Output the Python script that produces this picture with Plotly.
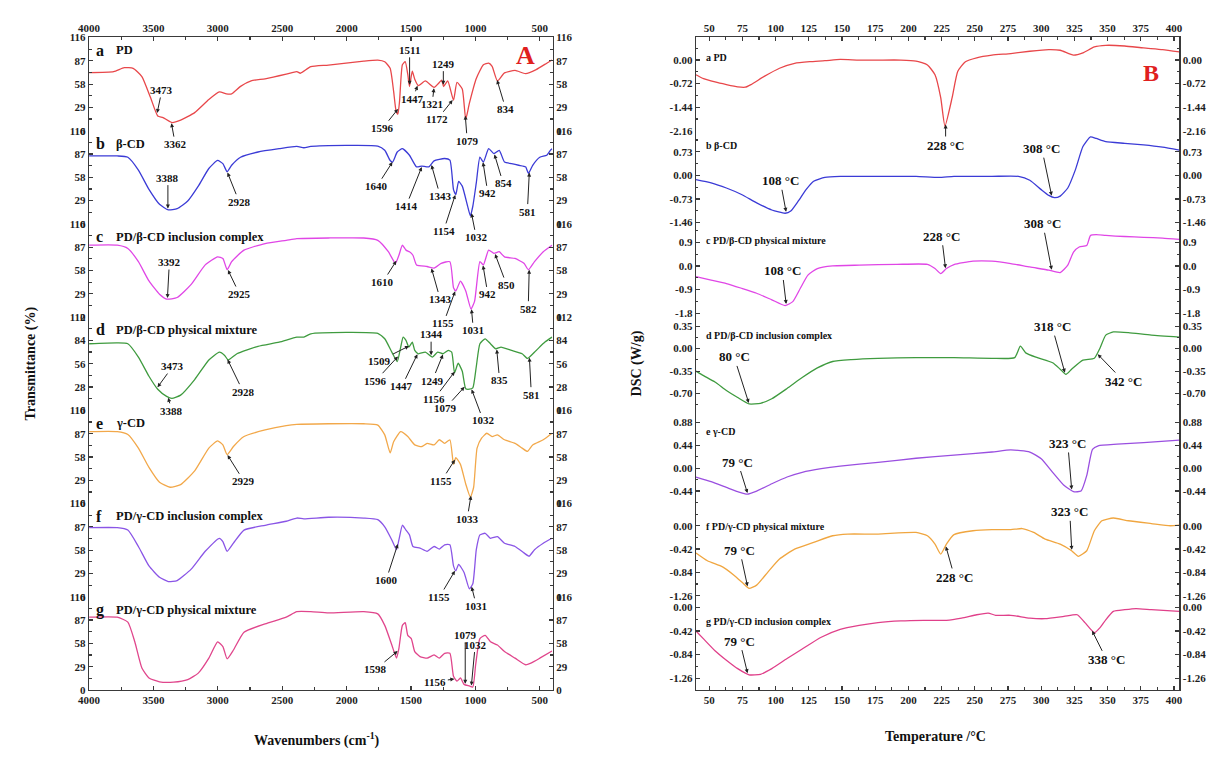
import numpy as np
import plotly.graph_objects as go

# ===================== DATA =====================
# --- FTIR (panel A): wavenumber (cm-1) and transmittance (%) ---
ftir_a_wn = [4000,3809,3727,3658,3590,3522,3467,3426,3357,3289,3180,3070,2988,2934,2893,2824,2742,2633,2469,2387,
             2359,2278,2141,1867,1758,1704,1662,1635,1616,1602,1589,1567,1545,1525,1512,1490,1471,1443,1389,1321,
             1280,1262,1247,1215,1170,1143,1102,1075,1047,993,938,897,870,829,774,692,610,528,446,405]
ftir_a_t = [72.3,73.5,78.4,77.6,67.4,40.9,18.4,16.4,10.2,13.1,22.5,38.8,48.2,45.8,45.8,55.2,62.1,64.6,70.3,73.5,
            71.5,79.7,81.7,86.6,87.8,85.8,77.6,49,24.5,20.5,36.8,82,86,70,55,74,64,56,62,54,
            60,63,55,62,38,60,52,14.3,34,65,82,84,80,62,72,75,71,76,84,88]

ftir_b_wn = [4000,3781,3699,3617,3535,3453,3385,3316,3234,3152,3070,3002,2961,2928,2893,2824,2688,2524,2387,2332,
             2278,2004,1758,1704,1662,1643,1607,1567,1512,1457,1416,1362,1321,1239,1198,1170,1152,1130,1102,1061,
             1039,1020,993,965,938,897,856,815,774,719,664,610,588,555,500,446,418,405]
ftir_b_t = [84.6,84.6,83,67,43,24.4,17.5,19,28.5,47,69,79,75,65,73,83,89.5,93.6,96.4,94.8,
            96.4,97.7,96.9,91.6,79,77,89.5,93.6,85.5,71,72,71,78.5,81.4,79.4,42.7,36.6,53,47,22.4,
            10,22,51,83,77,93.6,87.5,91.6,77,75,73,71,63,73,83,85.5,91.6,93.6]

ftir_c_wn = [4000,3781,3699,3617,3535,3453,3398,3316,3207,3098,3002,2961,2928,2893,2797,2633,2469,2387,2141,1867,
             1758,1676,1621,1594,1567,1539,1512,1485,1457,1375,1321,1266,1198,1170,1152,1116,1075,1034,1006,965,
             938,897,856,815,774,692,623,588,541,473,405]
ftir_c_t = [89.5,89.5,85.5,69,45,28.5,22.4,24.4,40.7,65,75,73,59,69,83.4,91.6,95.6,97.7,98.5,98.5,
            95.6,81.4,67,77,89.5,83.4,81.4,77,65,63,61,67,69,36.6,32.6,44.8,32.6,10,20,69,
            65,83.4,79.4,81.4,75,73,67,59,69,81.4,89.5]

ftir_d_wn = [4000,3781,3699,3617,3535,3467,3398,3357,3289,3180,3070,2988,2947,2920,2852,2688,2524,2387,2332,2278,
             2004,1758,1704,1649,1607,1580,1561,1539,1517,1490,1471,1443,1389,1334,1293,1252,1211,1184,1162,1134,
             1102,1075,1047,1020,993,965,924,883,842,801,719,637,596,528,460,405]
ftir_d_t = [80,81,80,64,41,25.4,16.8,14.4,18.3,37,60.5,70,66,60.5,68,77,82,88,88,92,
            93.7,92.5,86,70,58.5,76,88,84,76,82,72,68,70,64,70,68,72,70,45,56.6,
            47,26,25.4,27,52.7,80,86,80,74,76,72,68,62.4,72,82,88]

ftir_e_wn = [4000,3781,3699,3617,3535,3453,3371,3289,3180,3070,3002,2961,2928,2879,2797,2633,2469,2387,2141,1867,
             1758,1704,1662,1635,1580,1525,1471,1416,1375,1321,1280,1239,1198,1170,1152,1116,1075,1039,1014,987,
             952,911,870,829,774,692,637,596,555,473,405]
ftir_e_t = [89.5,89.5,86,69,45,26.5,20.3,23.6,40.7,69,78,73,61,71,83.4,91.6,97,98.5,99.3,99.3,
            97.7,85.5,63,77,89.5,83.4,73,71,75,73,79.4,75,79.4,48.8,57,48.8,24.4,8,20,69,
            81.4,87.5,83.4,85.5,79.4,75,69,65,73,79.4,87.5]

ftir_f_wn = [4000,3781,3699,3617,3535,3453,3385,3316,3207,3098,2988,2961,2928,2879,2797,2633,2469,2387,2332,2141,
             1867,1758,1704,1649,1613,1594,1567,1539,1512,1485,1430,1375,1321,1280,1239,1198,1170,1152,1130,1088,
             1047,1020,993,965,924,883,829,774,692,623,583,541,473,405]
ftir_f_t = [86,86,83,62.6,38.4,24.3,19,20.2,34.4,56.6,72.8,68.7,56.6,66.7,83,89,94,98,97,99,
            98,96,87,70.7,58.6,70.7,89,83,77,62.6,60.6,56.6,62.6,59.4,64.7,64.7,38.4,32.3,40.4,30.3,
            10,16.2,58.6,77,79,72.8,74.8,66.7,62.6,54.6,50.5,58.6,66.7,72.8]

ftir_g_wn = [4000,3781,3699,3645,3590,3535,3453,3344,3234,3152,3070,3002,2961,2928,2879,2797,2633,2469,2387,2278,
             2141,1867,1758,1704,1649,1613,1594,1567,1545,1525,1498,1471,1430,1375,1321,1280,1239,1198,1170,1143,
             1116,1088,1047,1020,998,965,924,883,829,774,692,610,569,500,405]
ftir_g_t = [90.6,90.6,84.5,60,27.3,15,10.2,9.8,13,21,39.6,60,54,38.8,49.8,72,82.4,90.6,97.5,97.5,
            96,97.5,94.7,80.4,56,39.6,51.8,80.4,83.7,68,64,47.8,41.6,39.6,43.7,39.6,45.7,45.7,17,11,
            15,7,5,3.7,31.4,64,68,60,56,47.8,39.6,31.4,33.5,39.6,48.6]

ftir_letters = ["a", "b", "c", "d", "e", "f", "g"]
ftir_names = ["PD", "β-CD", "PD/β-CD inclusion complex", "PD/β-CD physical mixture",
              "γ-CD", "PD/γ-CD inclusion complex", "PD/γ-CD physical mixture"]
ftir_peaks = [
    [3473, 3362, 1596, 1511, 1447, 1321, 1249, 1172, 1079, 834],
    [3388, 2928, 1640, 1414, 1343, 1154, 1032, 942, 854, 581],
    [3392, 2925, 1610, 1343, 1155, 1031, 942, 850, 582],
    [3473, 3388, 2928, 1509, 1596, 1447, 1344, 1249, 1156, 1079, 1032, 835, 581],
    [2929, 1155, 1033],
    [1600, 1155, 1031],
    [1598, 1156, 1079, 1032],
]
ftir_xticks = [4000, 3500, 3000, 2500, 2000, 1500, 1000, 500]
ftir_yticks = [0, 29, 58, 87, 116]
ftir_yticks_d = [0, 28, 56, 84, 112]

# --- DSC (panel B): temperature (°C) and heat flow (W/g) ---
dsc_a_T = [40,45.7,54.3,62.9,71.4,77.1,81.4,91.4,102.9,114.3,125.7,137.1,148.6,162.9,177.1,194.3,205.7,214.3,220,224.3,
           227.5,232.9,237.1,242.9,251.4,262.9,277.1,291.4,305.7,314.3,324.3,331.4,340,348.6,362.9,377.1,391.4,404]
dsc_a_v = [-0.45,-0.57,-0.67,-0.75,-0.82,-0.83,-0.75,-0.50,-0.25,-0.10,-0.05,-0.02,0.02,0.00,0.00,0.00,-0.03,-0.15,-0.45,-1.15,
           -2.02,-1.15,-0.35,-0.05,0.07,0.15,0.20,0.27,0.32,0.30,0.15,0.22,0.40,0.45,0.43,0.37,0.32,0.25]

dsc_b_T = [40,51.4,62.9,74.3,85.7,97.1,107.1,111.4,117.1,122.9,128.6,137.1,148.6,177.1,205.7,222.9,234.3,262.9,282.9,291.4,
           300,305.7,310,314.3,320,325.7,331.4,337.1,341.4,348.6,362.9,377.1,391.4,404]
dsc_b_v = [-0.13,-0.23,-0.39,-0.59,-0.85,-1.07,-1.17,-1.10,-0.79,-0.44,-0.18,-0.06,-0.03,-0.03,-0.03,-0.06,-0.03,-0.03,-0.03,-0.15,
           -0.44,-0.62,-0.69,-0.64,-0.39,0.17,0.89,1.19,1.14,1.04,0.99,0.94,0.87,0.78]

dsc_c_T = [40,51.4,62.9,74.3,85.7,97.1,107.1,112.9,118.6,124.3,131.4,142.9,162.9,191.4,214.3,220,224.3,228.6,234.3,248.6,
           262.9,277.1,291.4,305.7,314.3,320,324.3,328.6,334.3,337.1,341.4,348.6,362.9,377.1,391.4,404]
dsc_c_v = [-0.41,-0.54,-0.67,-0.85,-1.04,-1.29,-1.51,-1.36,-0.85,-0.35,-0.10,0.0,0.03,0.06,0.06,-0.10,-0.29,-0.10,0.05,0.18,
           0.18,0.09,-0.04,-0.16,-0.25,0.03,0.53,0.72,0.78,1.16,1.19,1.16,1.12,1.09,1.06,1.01]

dsc_d_T = [40,45.7,54.3,62.9,71.4,80,88.6,97.1,108.6,120,131.4,142.9,157.1,177.1,205.7,234.3,262.9,280,284.3,288.6,
           297.1,308.6,314.3,318.6,322.9,331.4,340,344.3,348.6,354.3,365.7,382.9,404]
dsc_d_v = [-0.35,-0.42,-0.52,-0.65,-0.76,-0.86,-0.85,-0.78,-0.62,-0.45,-0.30,-0.20,-0.17,-0.15,-0.14,-0.14,-0.15,-0.14,0.04,-0.07,
           -0.14,-0.22,-0.32,-0.40,-0.32,-0.18,-0.15,0.01,0.21,0.26,0.25,0.21,0.18]

dsc_e_T = [40,51.4,62.9,71.4,78.6,85.7,97.1,108.6,120,134.3,148.6,177.1,205.7,234.3,262.9,277.1,291.4,300,308.6,317.1,
           324.3,330,334.3,338.6,342.9,357.1,377.1,404]
dsc_e_v = [-0.17,-0.26,-0.37,-0.45,-0.50,-0.44,-0.30,-0.17,-0.08,-0.01,0.04,0.11,0.19,0.25,0.31,0.35,0.31,0.18,-0.08,-0.33,
           -0.45,-0.44,-0.14,0.36,0.43,0.46,0.49,0.54]

dsc_f_T = [40,48.6,60,68.6,75.7,80,85.7,94.3,102.9,114.3,128.6,142.9,154.3,177.1,205.7,214.3,220,224.3,228.6,234.3,
           248.6,262.9,277.1,285.7,294.3,302.9,314.3,322.9,328,334.3,340,345.7,354.3,365.7,382.9,397.1,404]
dsc_f_v = [-0.49,-0.63,-0.74,-0.89,-1.04,-1.13,-1.07,-0.83,-0.60,-0.42,-0.30,-0.18,-0.15,-0.15,-0.12,-0.18,-0.33,-0.51,-0.33,-0.16,
           -0.09,-0.07,-0.07,-0.05,-0.12,-0.24,-0.33,-0.45,-0.55,-0.45,-0.09,0.09,0.14,0.09,0.04,0.00,0.01]

dsc_g_T = [40,45.7,54.3,62.9,71.4,80,88.6,97.1,108.6,120,134.3,148.6,162.9,177.1,194.3,211.4,228.6,240,251.4,260,
           265.7,277.1,291.4,302.9,317.1,327.1,332.9,340,344.3,348.6,354.3,362.9,371.4,382.9,404]
dsc_g_v = [-0.42,-0.56,-0.77,-0.94,-1.09,-1.20,-1.19,-1.09,-0.91,-0.74,-0.53,-0.39,-0.32,-0.27,-0.24,-0.23,-0.23,-0.19,-0.13,-0.10,
           -0.14,-0.14,-0.19,-0.20,-0.16,-0.13,-0.27,-0.45,-0.36,-0.22,-0.07,-0.04,-0.02,-0.04,-0.07]

dsc_names = ["a PD", "b β-CD", "c PD/β-CD physical mixture", "d PD/β-CD inclusion complex",
             "e γ-CD", "f PD/γ-CD physical mixture", "g PD/γ-CD inclusion complex"]
dsc_peaks = [[228], [108, 308], [108, 228, 308], [80, 318, 342], [79, 323], [79, 228, 323], [79, 338]]
dsc_xticks = [50, 75, 100, 125, 150, 175, 200, 225, 250, 275, 300, 325, 350, 375, 400]
dsc_yticks = [
    [0.00, -0.72, -1.44, -2.16],
    [0.73, 0.00, -0.73, -1.46],
    [0.9, 0.0, -0.9, -1.8],
    [0.35, 0.00, -0.35, -0.70],
    [0.88, 0.44, 0.00, -0.44],
    [0.00, -0.42, -0.84, -1.26],
    [0.00, -0.42, -0.84, -1.26],
]
dsc_ytext = [
    ["0.00", "-0.72", "-1.44", "-2.16"],
    ["0.73", "0.00", "-0.73", "-1.46"],
    ["0.9", "0.0", "-0.9", "-1.8"],
    ["0.35", "0.00", "-0.35", "-0.70"],
    ["0.88", "0.44", "0.00", "-0.44"],
    ["0.00", "-0.42", "-0.84", "-1.26"],
    ["0.00", "-0.42", "-0.84", "-1.26"],
]

ftir_wn = [ftir_a_wn, ftir_b_wn, ftir_c_wn, ftir_d_wn, ftir_e_wn, ftir_f_wn, ftir_g_wn]
ftir_t = [ftir_a_t, ftir_b_t, ftir_c_t, ftir_d_t, ftir_e_t, ftir_f_t, ftir_g_t]
dsc_T = [dsc_a_T, dsc_b_T, dsc_c_T, dsc_d_T, dsc_e_T, dsc_f_T, dsc_g_T]
dsc_v = [dsc_a_v, dsc_b_v, dsc_c_v, dsc_d_v, dsc_e_v, dsc_f_v, dsc_g_v]

# ===================== STYLE / LAYOUT =====================
W, H = 1210, 758
TOP, BOT = 32, 695
PH = (BOT - TOP) / 7.0
AX0, AX1 = 79, 548
BX0, BX1 = 693, 1182
SERIF = "Liberation Serif"
INK = "#1e1e1e"
LINEC = "#3a3a3a"

ftir_colors = ["#e8474a", "#3b3bd6", "#e046e6", "#3f9b3f", "#f2a84a", "#8a55e6", "#e0468c"]
dsc_colors = ["#e8474a", "#3b3bd6", "#e046e6", "#3f9b3f", "#9a4fe0", "#f0a640", "#e0408a"]

ftir_offsets = [
    [(5, -24), (4, 22), (-16, 20), (0, -36), (-5, 14), (-2, 17), (0, -22), (-16, 20), (2, 26), (9, 30)],
    [(0, -32), (12, 30), (-16, 25), (-16, 40), (9, 32), (-12, 37), (5, 25), (5, 32), (9, 30), (-2, 40)],
    [(2, -37), (12, 25), (-14, 22), (9, 32), (-12, 33), (2, 22), (5, 30), (12, 32), (-1, 40)],
    [(16, -22), (4, 14), (16, 33), (-30, 15), (-23, 25), (-16, 33), (0, -22), (-11, 27), (-21, 28),
     (-20, 22), (12, 32), (3, 32), (2, 38)],
    [(17, 27), (-14, 22), (-4, 24)],
    [(-12, 37), (-16, 27), (5, 20)],
    [(-23, 19), (-20, 3), (0, -50), (4, -42)],
]
dsc_offsets = [
    [(0, 22)],
    [(-6, -32), (-10, -48)],
    [(-4, -34), (-4, -33), (-9, -47)],
    [(-15, -47), (-13, -47), (27, 28)],
    [(-10, -32), (-4, -47)],
    [(-8, -37), (9, 32), (-2, -39)],
    [(-8, -33), (15, 30)],
]
dsc_ranges = [(-2.16, 0.69), (-1.50, 1.38), (-1.95, 1.60), (-0.96, 0.49),
              (-0.68, 1.11), (-1.28, 0.40), (-1.47, 0.19)]
dsc_name_y = [52, 142, 238, 335, 432, 529, 625]


def ydom(k):
    t = TOP + k * PH
    return [1 - (t + PH) / H, 1 - t / H]


def curve_at(x, xs, ys):
    xs = np.asarray(xs, float)
    ys = np.asarray(ys, float)
    if xs[0] > xs[-1]:
        xs, ys = xs[::-1], ys[::-1]
    return float(np.interp(x, xs, ys))


def px(xp, yp):
    return xp / W, 1 - yp / H


tickfont = dict(family=SERIF, size=11, color=INK, weight="bold")
common = dict(showline=True, linecolor=LINEC, linewidth=1.3, ticks="inside", ticklen=4,
              tickwidth=1.2, tickcolor=LINEC, showgrid=False, zeroline=False,
              tickfont=tickfont, fixedrange=True)

fig = go.Figure()
layout = {}

# ---- Panel A traces and axes ----
for k in range(7):
    fig.add_trace(go.Scatter(x=ftir_wn[k], y=ftir_t[k], mode="lines",
                             line=dict(color=ftir_colors[k], width=1.3, shape="spline", smoothing=0.5),
                             xaxis="x", yaxis=f"y{k+1}", hoverinfo="skip", showlegend=False))
    fig.add_trace(go.Scatter(x=[None], y=[None], xaxis="x", yaxis=f"y{k+8}",
                             hoverinfo="skip", showlegend=False))
    vals = ftir_yticks_d if k == 3 else ftir_yticks
    step = vals[1] - vals[0]
    yax = dict(range=[vals[0], vals[-1]], tickmode="array", tickvals=vals,
               ticktext=[str(v) for v in vals],
               minor=dict(tick0=0, dtick=step / 2, ticks="inside", ticklen=2.5, tickcolor=LINEC),
               **common)
    layout[f"yaxis{k+1}"] = dict(domain=ydom(k), anchor="x", side="left", **yax)
    layout[f"yaxis{k+8}"] = dict(overlaying=f"y{k+1}", anchor="x", side="right", **yax)

xa = dict(range=[4000, 400], tickmode="array", tickvals=ftir_xticks,
          ticktext=[str(v) for v in ftir_xticks],
          minor=dict(tick0=0, dtick=250, ticks="inside", ticklen=2.5, tickcolor=LINEC), **common)
layout["xaxis"] = dict(domain=[AX0 / W, AX1 / W], anchor="y7", side="bottom", **xa)
layout["xaxis2"] = dict(overlaying="x", anchor="y", side="top", **xa)
fig.add_trace(go.Scatter(x=[None], y=[None], xaxis="x2", yaxis="y", hoverinfo="skip", showlegend=False))

# ---- Panel B traces and axes ----
for k in range(7):
    fig.add_trace(go.Scatter(x=dsc_T[k], y=dsc_v[k], mode="lines",
                             line=dict(color=dsc_colors[k], width=1.3, shape="spline", smoothing=0.5),
                             xaxis="x3", yaxis=f"y{k+15}", hoverinfo="skip", showlegend=False))
    fig.add_trace(go.Scatter(x=[None], y=[None], xaxis="x3", yaxis=f"y{k+22}",
                             hoverinfo="skip", showlegend=False))
    vals = dsc_yticks[k]
    step = abs(vals[1] - vals[0])
    yax = dict(range=list(dsc_ranges[k]), tickmode="array", tickvals=vals, ticktext=dsc_ytext[k],
               minor=dict(tick0=0, dtick=step / 2, ticks="inside", ticklen=2.5, tickcolor=LINEC),
               **common)
    layout[f"yaxis{k+15}"] = dict(domain=ydom(k), anchor="x3", side="left", **yax)
    layout[f"yaxis{k+22}"] = dict(overlaying=f"y{k+15}", anchor="x3", side="right", **yax)

xb = dict(range=[40, 404], tickmode="array", tickvals=dsc_xticks,
          ticktext=[str(v) for v in dsc_xticks],
          minor=dict(tick0=0, dtick=12.5, ticks="inside", ticklen=2.5, tickcolor=LINEC), **common)
layout["xaxis3"] = dict(domain=[BX0 / W, BX1 / W], anchor="y21", side="bottom", **xb)
layout["xaxis4"] = dict(overlaying="x3", anchor="y15", side="top", **xb)
fig.add_trace(go.Scatter(x=[None], y=[None], xaxis="x4", yaxis="y15", hoverinfo="skip", showlegend=False))

# ---- Annotations ----
ann = []
afont = dict(family=SERIF, size=11, color="#111", weight="bold")
for k in range(7):
    for wn, (dx, dy) in zip(ftir_peaks[k], ftir_offsets[k]):
        ann.append(dict(x=wn, y=curve_at(wn, ftir_wn[k], ftir_t[k]), xref="x", yref=f"y{k+1}",
                        text=str(wn), showarrow=True, ax=dx, ay=dy, arrowhead=2, arrowsize=0.8,
                        arrowwidth=1, arrowcolor="#222", standoff=1, font=afont))
    lx, ly = px(84, TOP + k * PH + 13)
    ann.append(dict(x=lx, y=ly, xref="paper", yref="paper", text=ftir_letters[k], showarrow=False,
                    xanchor="left", yanchor="middle",
                    font=dict(family=SERIF, size=16, color="#111", weight="bold")))
    nx, ny = px(104, TOP + k * PH + 13)
    ann.append(dict(x=nx, y=ny, xref="paper", yref="paper", text=ftir_names[k], showarrow=False,
                    xanchor="left", yanchor="middle",
                    font=dict(family=SERIF, size=12.5, color="#111", weight="bold")))

bfont = dict(family=SERIF, size=13, color="#111", weight="bold")
for k in range(7):
    for T, (dx, dy) in zip(dsc_peaks[k], dsc_offsets[k]):
        ann.append(dict(x=T, y=curve_at(T, dsc_T[k], dsc_v[k]), xref="x3", yref=f"y{k+15}",
                        text=f"{T} °C", showarrow=True, ax=dx, ay=dy, arrowhead=2, arrowsize=0.8,
                        arrowwidth=1, arrowcolor="#222", standoff=1, font=bfont))
    nx, ny = px(701, dsc_name_y[k])
    ann.append(dict(x=nx, y=ny, xref="paper", yref="paper", text=dsc_names[k],
                    showarrow=False, xanchor="left", yanchor="middle",
                    font=dict(family=SERIF, size=10, color="#111", weight="bold")))

titlefont = dict(family=SERIF, size=14, color="#111", weight="bold")


def label(xp, yp, text, font, angle=0):
    x, y = px(xp, yp)
    return dict(x=x, y=y, xref="paper", yref="paper", text=text, textangle=angle, showarrow=False,
                xanchor="center", yanchor="middle", font=font)


ann += [
    label(20, 363.5, "Transmittance (%)", titlefont, -90),
    label(310, 745, "Wavenumbers (cm<sup>-1</sup>)", titlefont),
    label(633, 363.5, "DSC (W/g)", titlefont, -90),
    label(935, 742, "Temperature /°C", titlefont),
    label(521, 50, "A", dict(family=SERIF, size=26, color="#e0201e", weight="bold")),
    label(1153, 68, "B", dict(family=SERIF, size=24, color="#e0201e", weight="bold")),
]

fig.update_layout(width=W, height=H, margin=dict(l=0, r=0, t=0, b=0),
                  paper_bgcolor="white", plot_bgcolor="white", showlegend=False,
                  annotations=ann, **layout)

fig.write_html("out.html", config={"displayModeBar": False, "staticPlot": True},
               post_script="document.body.style.margin='0';")
